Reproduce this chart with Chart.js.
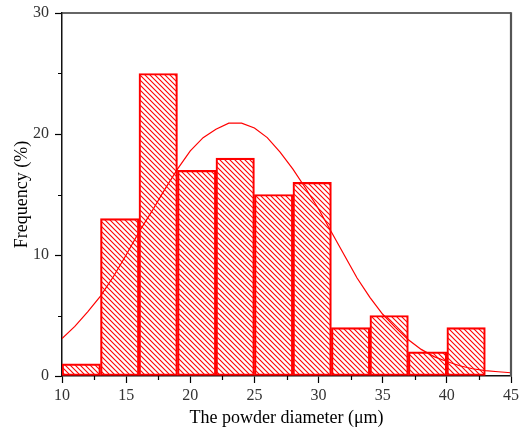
<!DOCTYPE html>
<html>
<head>
<meta charset="utf-8">
<script src="https://cdn.jsdelivr.net/npm/chart.js@4"></script>
<style>
  body { margin: 0; background: #fff; }
  #wrap { width: 519px; height: 432px; }
</style>
</head>
<body>
<div id="wrap"><canvas id="histChart" width="519" height="432"></canvas></div>
<script>
// histogram bins (µm) and their frequencies (%)
const binEdges = [10, 13, 16, 19, 22, 25, 28, 31, 34, 37, 40, 43];
const frequency = [1, 13, 25, 17, 18, 15, 16, 4, 5, 2, 4];

// fitted distribution curve
const fitX = [10, 11, 12, 13, 14, 15, 16, 17, 18, 19, 20, 21, 22, 23, 24, 25, 26, 27,
              28, 29, 30, 31, 32, 33, 34, 35, 36, 37, 38, 39, 40, 41, 42, 43, 44, 45];
const fitY = [3.1, 4.1, 5.3, 6.6, 8.2, 10.0, 11.9, 13.6, 15.4, 17.1, 18.6, 19.7, 20.4, 20.9, 20.9, 20.5, 19.7, 18.5,
              17.1, 15.5, 13.8, 11.9, 10.0, 8.1, 6.5, 5.1, 4.0, 3.0, 2.2, 1.6, 1.2, 0.85, 0.6, 0.45, 0.35, 0.27];

const xTicks = [10, 15, 20, 25, 30, 35, 40, 45];
const xMinorTicks = [12.5, 17.5, 22.5, 27.5, 32.5, 37.5, 42.5];
const yTicks = [0, 10, 20, 30];
const yMinorTicks = [5, 15, 25];

const canvas = document.getElementById('histChart');
const ctx = canvas.getContext('2d');

// diagonal hatch fill like the original
function makeHatch() {
    const tile = document.createElement('canvas');
    tile.width = 5;
    tile.height = 5;
    const g = tile.getContext('2d');
    g.strokeStyle = '#ff0000';
    g.lineWidth = 1.1;
    g.beginPath();
    g.moveTo(-1, -1); g.lineTo(6, 6);
    g.moveTo(-1, 4); g.lineTo(1, 6);
    g.moveTo(4, -1); g.lineTo(6, 1);
    g.stroke();
    return ctx.createPattern(tile, 'repeat');
}

const barData = frequency.map((f, i) => ({ x: (binEdges[i] + binEdges[i + 1]) / 2, y: f }));
const fitData = fitX.map((x, i) => ({ x: x, y: fitY[i] }));

const serif = "'Liberation Serif', 'Times New Roman', serif";

// minor tick marks + top/right frame
const framePlugin = {
    id: 'frame',
    afterDraw(chart) {
        const c = chart.ctx;
        const area = chart.chartArea;
        const xs = chart.scales.x;
        const ys = chart.scales.y;
        c.save();
        c.strokeStyle = '#000';
        c.lineWidth = 1.2;
        c.beginPath();
        xMinorTicks.forEach(v => {
            const px = Math.round(xs.getPixelForValue(v)) + 0.5;
            c.moveTo(px, area.bottom);
            c.lineTo(px, area.bottom + 4);
        });
        yMinorTicks.forEach(v => {
            const py = Math.round(ys.getPixelForValue(v)) + 0.5;
            c.moveTo(area.left, py);
            c.lineTo(area.left - 4, py);
        });
        c.stroke();
        c.strokeStyle = '#333';
        c.lineWidth = 1.5;
        c.beginPath();
        c.moveTo(area.left, area.top);
        c.lineTo(area.right, area.top);
        c.stroke();
        c.strokeStyle = '#555';
        c.lineWidth = 2.2;
        c.beginPath();
        c.moveTo(area.right, area.top - 0.7);
        c.lineTo(area.right, area.bottom);
        c.stroke();
        c.restore();
    }
};

new Chart(ctx, {
    type: 'bar',
    data: {
        datasets: [
            {
                type: 'line',
                data: fitData,
                borderColor: '#ff0000',
                borderWidth: 1.2,
                pointRadius: 0,
                tension: 0,
                fill: false
            },
            {
                type: 'bar',
                data: barData,
                backgroundColor: makeHatch(),
                borderColor: '#ff0000',
                borderWidth: 1.5,
                borderSkipped: false,
                barPercentage: 1,
                categoryPercentage: 1
            }
        ]
    },
    options: {
        responsive: false,
        animation: false,
        layout: {
            padding: { top: 13, right: 8, left: 0, bottom: 0 }
        },
        plugins: {
            legend: { display: false },
            tooltip: { enabled: false }
        },
        scales: {
            x: {
                type: 'linear',
                min: 10,
                max: 45,
                offset: false,
                afterBuildTicks: (scale) => {
                    scale.ticks = xTicks.map(v => ({ value: v }));
                },
                afterFit: (scale) => {
                    scale.height = 56;
                    scale.paddingLeft = 0;
                    scale.paddingRight = 0;
                },
                grid: {
                    offset: false,
                    drawOnChartArea: false,
                    drawTicks: true,
                    tickLength: 7,
                    tickWidth: 1.2,
                    tickColor: '#000'
                },
                border: { display: true, color: '#111', width: 1.5 },
                ticks: {
                    color: '#333',
                    padding: 3,
                    maxRotation: 0,
                    font: { family: serif, size: 16 }
                },
                title: {
                    display: true,
                    text: 'The powder diameter (μm)',
                    color: '#000',
                    padding: { top: 0, bottom: 3 },
                    font: { family: serif, size: 18 }
                }
            },
            y: {
                min: 0,
                max: 30,
                afterBuildTicks: (scale) => {
                    scale.ticks = yTicks.map(v => ({ value: v }));
                },
                afterFit: (scale) => {
                    scale.width = 62;
                    scale.paddingTop = 0;
                    scale.paddingBottom = 0;
                },
                grid: {
                    drawOnChartArea: false,
                    drawTicks: true,
                    tickLength: 7,
                    tickWidth: 1.2,
                    tickColor: '#000'
                },
                border: { display: true, color: '#111', width: 1.5 },
                ticks: {
                    color: '#333',
                    padding: 6,
                    font: { family: serif, size: 16 }
                },
                title: {
                    display: true,
                    text: 'Frequency (%)',
                    color: '#000',
                    padding: { top: 11, bottom: 0 },
                    font: { family: serif, size: 18 }
                }
            }
        }
    },
    plugins: [framePlugin]
});
</script>
</body>
</html>
